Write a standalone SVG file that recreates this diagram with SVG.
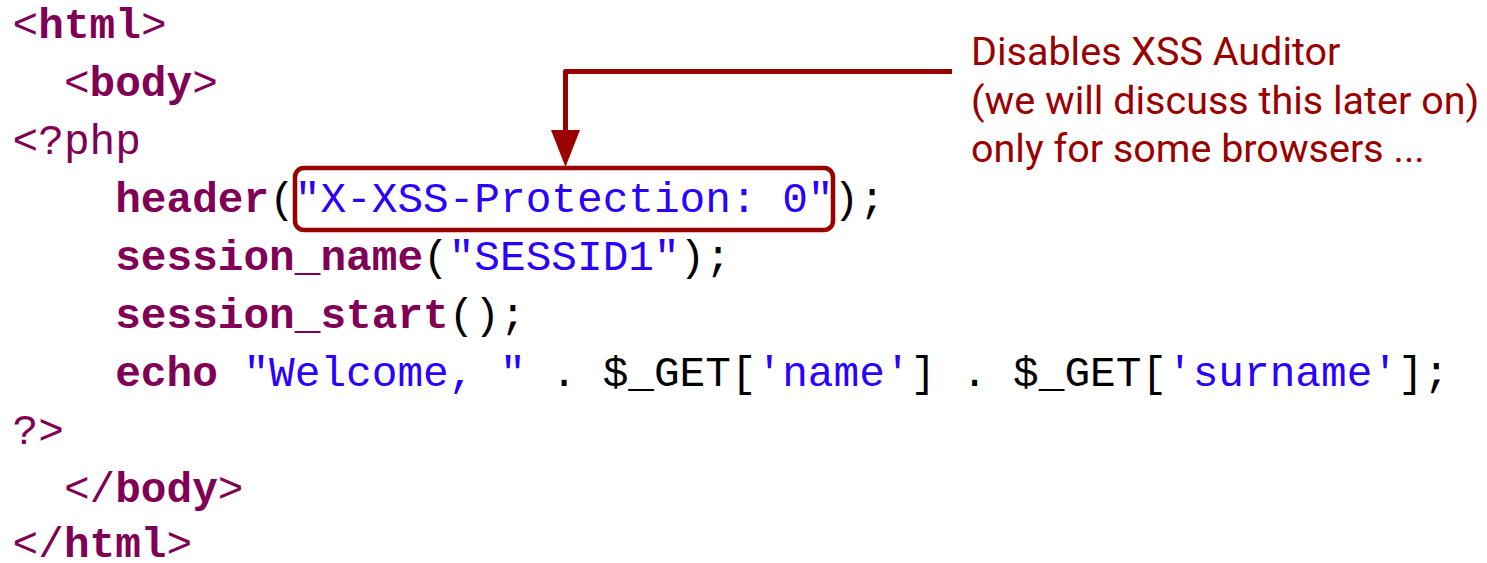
<svg xmlns="http://www.w3.org/2000/svg" width="1487" height="563" viewBox="0 0 1487 563">
<style>
.code{font-family:"Liberation Mono","DejaVu Sans Mono",monospace;font-size:42.75px;fill:#000;white-space:pre}
.kw{fill:#7f0055;font-weight:bold}
.tag{fill:#7f0055}
.str{fill:#2a00ff}
.note{font-family:Roboto,"Liberation Sans",sans-serif;font-size:39.5px;fill:#990000}
.ln{fill:none;stroke:#990000;stroke-width:5;stroke-linejoin:round}
</style>
<rect width="1487" height="563" fill="#fff"/>
<g id="code">
<text class="code" x="12.6" y="38"><tspan class="tag">&lt;</tspan><tspan class="kw">html</tspan><tspan class="tag">&gt;</tspan></text>
<text class="code" x="63.9" y="96"><tspan class="tag">&lt;</tspan><tspan class="kw">body</tspan><tspan class="tag">&gt;</tspan></text>
<text class="code" x="12.6" y="154"><tspan class="tag">&lt;?php</tspan></text>
<text class="code" x="115.2" y="212"><tspan class="kw">header</tspan>(<tspan class="str">"X-XSS-Protection: 0"</tspan>);</text>
<text class="code" x="115.2" y="270"><tspan class="kw">session_name</tspan>(<tspan class="str">"SESSID1"</tspan>);</text>
<text class="code" x="115.2" y="328"><tspan class="kw">session_start</tspan>();</text>
<text class="code" x="115.2" y="386"><tspan class="kw">echo</tspan> <tspan class="str">"Welcome, "</tspan> . $_GET[<tspan class="str">'name'</tspan>] . $_GET[<tspan class="str">'surname'</tspan>];</text>
<text class="code" x="12.6" y="444"><tspan class="tag">?&gt;</tspan></text>
<text class="code" x="63.9" y="502"><tspan class="tag">&lt;/</tspan><tspan class="kw">body</tspan><tspan class="tag">&gt;</tspan></text>
<text class="code" x="12.6" y="557"><tspan class="tag">&lt;/</tspan><tspan class="kw">html</tspan><tspan class="tag">&gt;</tspan></text>
</g>
<g id="highlight">
<rect x="295" y="168" width="538" height="62" rx="9" ry="9" fill="none" stroke="#990000" stroke-width="4.5"/>
</g>
<g id="note">
<text class="note" x="971" y="65">Disables XSS Auditor</text>
<text class="note" x="971" y="114">(we will discuss this later on)</text>
<text class="note" x="971" y="162">only for some browsers ...</text>
</g>
<g id="connectors">
<path class="ln" d="M952 71.5 H565.5 V132"/>
<polygon points="551,130 580,130 565.5,167" fill="#990000"/>
</g>
</svg>
